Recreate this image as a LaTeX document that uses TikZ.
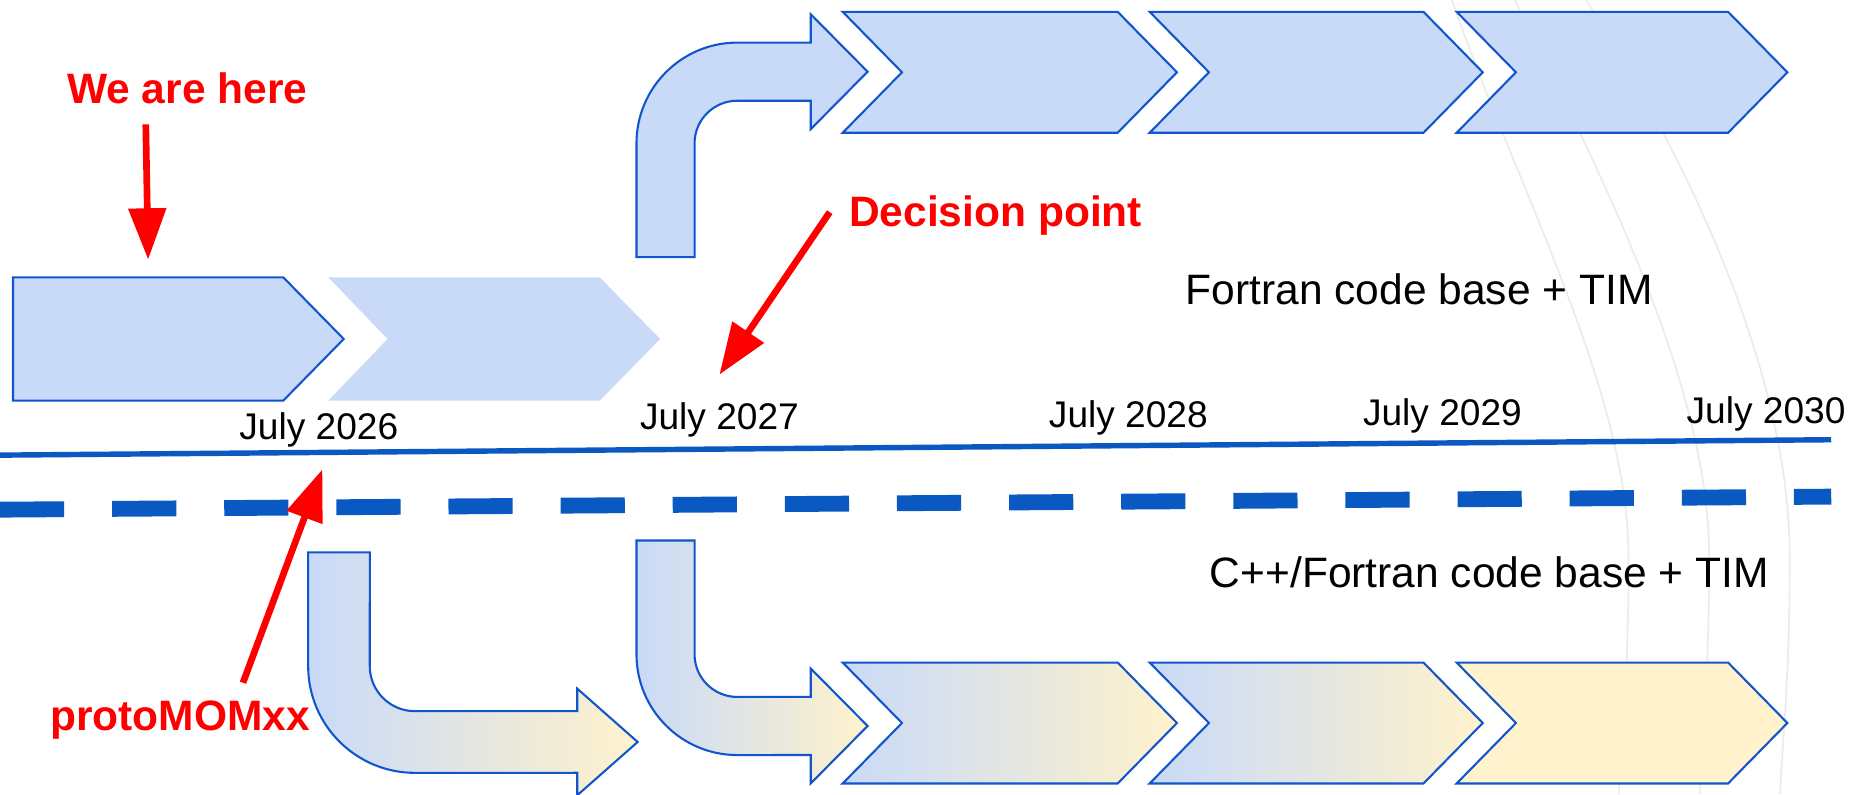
\documentclass[tikz,border=0pt]{standalone}
\usepackage{fontspec}
\setmainfont{Liberation Sans}
\usetikzlibrary{arrows.meta}
\definecolor{paleblue}{HTML}{C9DAF8}
\definecolor{paleyellow}{HTML}{FFF2CC}
\definecolor{edgeblue}{HTML}{1155CC}
\definecolor{lineblue}{HTML}{0A58C2}
\definecolor{arcgrey}{HTML}{EBEBEB}

\begin{document}
\begin{tikzpicture}[x=0.01cm, y=-0.01cm,
    stage/.style={draw=edgeblue, line width=0.5pt, fill=paleblue},
    mixstage/.style={draw=edgeblue, line width=0.5pt, left color=paleblue, right color=paleyellow},
    latestage/.style={draw=edgeblue, line width=0.5pt, fill=paleyellow},
    redtxt/.style={text=red, font=\bfseries\fontsize{10.2pt}{12pt}\selectfont, inner sep=0pt},
    basetxt/.style={font=\fontsize{10.2pt}{12pt}\selectfont, inner sep=0pt, anchor=base east},
    datetxt/.style={font=\fontsize{8.9pt}{11pt}\selectfont, inner sep=0pt, anchor=base},
    pointer/.style={red, line width=1.6pt, -{Triangle[length=12.3pt,width=8.8pt]}}]
    \useasboundingbox (0,0) rectangle (1560,670);
    %
    \draw[arcgrey, line width=0.4pt] (1225,0) .. controls (1280,160) and (1374,330) .. (1374,470) .. controls (1374,580) and (1367,630) .. (1366,670);
    \draw[arcgrey, line width=0.4pt] (1278,0) .. controls (1358,160) and (1442,330) .. (1442,470) .. controls (1442,580) and (1435,630) .. (1434,670);
    \draw[arcgrey, line width=0.4pt] (1338,0) .. controls (1440,160) and (1510,330) .. (1510,470) .. controls (1510,580) and (1503,630) .. (1502,670);
    %
    \draw[stage] (11,234) -- (239,234) -- (290,286) -- (239,338) -- (11,338) -- cycle;
    \fill[paleblue] (277,234) -- (506,234) -- (557,286) -- (506,338) -- (277,338) -- (327,286) -- cycle;
    %
    \draw[stage] (537,217) -- (537,121) arc[start angle=180, end angle=90, radius=0.85cm] -- (684,36) -- (684,12) -- (732,60.5) -- (684,109) -- (684,85) -- (622,85) arc[start angle=90, end angle=180, radius=0.36cm] -- (586,217) -- cycle;
    \draw[stage] (711,10) -- (943,10) -- (993,61) -- (943,112) -- (711,112) -- (761,61) -- cycle;
    \draw[stage] (970,10) -- (1201,10) -- (1251,61) -- (1201,112) -- (970,112) -- (1020,61) -- cycle;
    \draw[stage] (1229,10) -- (1458,10) -- (1508,61) -- (1458,112) -- (1229,112) -- (1279,61) -- cycle;
    %
    \draw[mixstage] (260,466) -- (260,562) arc[start angle=180, end angle=270, radius=0.9cm] -- (487,652) -- (487,671) -- (538,626) -- (487,581) -- (487,600) -- (350,600) arc[start angle=270, end angle=180, radius=0.38cm] -- (312,466) -- cycle;
    \draw[mixstage] (537,456) -- (537,552) arc[start angle=180, end angle=270, radius=0.85cm] -- (684,637) -- (684,661) -- (732,612.5) -- (684,564) -- (684,588) -- (622,588) arc[start angle=270, end angle=180, radius=0.36cm] -- (586,456) -- cycle;
    \draw[mixstage] (711,559) -- (943,559) -- (993,610) -- (943,661) -- (711,661) -- (761,610) -- cycle;
    \draw[mixstage] (970,559) -- (1201,559) -- (1251,610) -- (1201,661) -- (970,661) -- (1020,610) -- cycle;
    \draw[latestage] (1229,559) -- (1458,559) -- (1508,610) -- (1458,661) -- (1229,661) -- (1279,610) -- cycle;
    %
    \coordinate (tl) at (0,384);
    \coordinate (tr) at (1545,371);
    \coordinate (dl) at (0,430);
    \coordinate (dr) at (1545,419);
    \draw[lineblue, line width=1.3pt] (tl) -- (tr);
    \draw[lineblue, line width=3.8pt, dash pattern=on 15.4pt off 11.5pt] (dl) -- (dr);
    %
    \draw
    (269,371)node(d2026)[datetxt]{July 2026}
    (607,362)node(d2027)[datetxt]{July 2027}
    (952,361)node(d2028)[datetxt]{July 2028}
    (1217,359)node(d2029)[datetxt]{July 2029}
    (1490,357)node(d2030)[datetxt]{July 2030}
    (1395,257)node(fortran)[basetxt]{Fortran code base + TIM}
    (1493,496)node(cpp)[basetxt]{C++/Fortran code base + TIM}
    (158,87)node(here)[redtxt, anchor=base]{We are here}
    (840,191)node(decision)[redtxt, anchor=base]{Decision point}
    (152,616)node(proto)[redtxt, anchor=base]{protoMOMxx};
    %
    \coordinate (hereS) at (123,105);
    \coordinate (hereT) at (125,219);
    \coordinate (decisionS) at (700,179);
    \coordinate (decisionT) at (607,316);
    \coordinate (protoS) at (205,576);
    \coordinate (protoT) at (272,396);
    \draw[pointer] (hereS)--(hereT);
    \draw[pointer] (decisionS)--(decisionT);
    \draw[pointer] (protoS)--(protoT);
\end{tikzpicture}
\end{document}
